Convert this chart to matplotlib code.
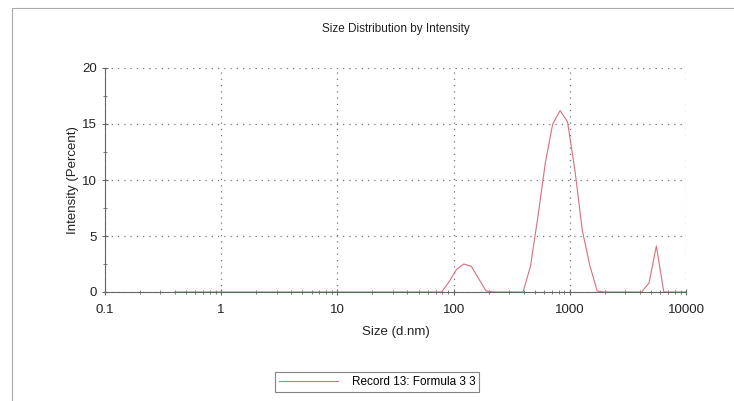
import matplotlib.pyplot as plt
from matplotlib.ticker import LogLocator, FixedLocator, NullFormatter, FuncFormatter
from matplotlib.patches import Rectangle

plt.rcParams['font.family'] = ['Liberation Sans', 'DejaVu Sans']

# size bins (d.nm) and intensity (percent)
size_nm = [0.4, 0.4632, 0.5365, 0.6213, 0.7195, 0.8332, 0.9649, 1.117, 1.294, 1.499,
           1.736, 2.010, 2.328, 2.696, 3.122, 3.615, 4.187, 4.849, 5.615, 6.503,
           7.531, 8.721, 10.10, 11.70, 13.54, 15.69, 18.17, 21.04, 24.36, 28.21,
           32.67, 37.84, 43.82, 50.75, 58.77, 68.06, 78.82, 91.28, 105.7, 122.4,
           141.8, 164.2, 190.1, 220.2, 255.0, 295.3, 342.0, 396.1, 458.7, 531.2,
           615.1, 712.4, 825.0, 955.4, 1106, 1281, 1484, 1718, 1990, 2305,
           2669, 3091, 3580, 4145, 4801, 5560, 6439, 7456, 8635, 10000]
intensity = [0] * 36 + [0.0, 0.9, 2.0, 2.5, 2.3, 1.2, 0.1, 0.0,
                        0.0, 0.0, 0.0, 0.0, 2.3, 6.7, 11.5, 15.0, 16.2, 15.2,
                        10.9, 5.5, 2.4, 0.1, 0.0, 0.0, 0.0, 0.0, 0.0, 0.0,
                        0.8, 4.1, 0.0, 0.0, 0.0, 0.0]
legend_label = "Record 13: Formula 3 3"

fig = plt.figure(figsize=(7.34, 4.01), dpi=100)
ax = fig.add_axes([105 / 734, 1 - 292 / 401, 581 / 734, 224 / 401])

ax.plot(size_nm, intensity, color='#d9707c', lw=0.8, label=legend_label)

ax.set_xscale('log')
ax.set_xlim(0.1, 10000)
ax.set_ylim(0, 20)
ax.xaxis.set_major_locator(LogLocator(base=10, numticks=10))
ax.xaxis.set_major_formatter(FuncFormatter(lambda v, p: f"{v:g}"))
ax.xaxis.set_minor_locator(LogLocator(base=10, subs=range(2, 10), numticks=10))
ax.xaxis.set_minor_formatter(NullFormatter())
ax.yaxis.set_major_locator(FixedLocator([0, 5, 10, 15, 20]))
ax.yaxis.set_minor_locator(FixedLocator([2.5, 7.5, 12.5, 17.5]))

ax.grid(True, which='major', color='#777777', linestyle=(0, (1, 4)), lw=0.9)
for side in ['top', 'right']:
    ax.spines[side].set_visible(False)
for side in ['left', 'bottom']:
    ax.spines[side].set_color('#666666')
    ax.spines[side].set_linewidth(0.8)

ax.tick_params(which='both', direction='inout', colors='#666666', labelcolor='#222222',
               labelsize=9.5)
ax.tick_params(which='major', length=5)
ax.tick_params(which='minor', length=3)
ax.tick_params(axis='x', pad=6)

ax.set_title("Size Distribution by Intensity", fontsize=8.5, color='#222222', pad=26,
             family=['Liberation Sans Narrow', 'Liberation Sans'])
ax.set_xlabel("Size (d.nm)", fontsize=9.5, color='#222222', labelpad=7)
ax.set_ylabel("Intensity (Percent)", fontsize=9.5, color='#222222', labelpad=2)

leg = fig.legend(loc='center', bbox_to_anchor=(377 / 734, 1 - 382 / 401), fontsize=8.5,
                 frameon=True, fancybox=False, handlelength=5, borderpad=0.3,
                 handletextpad=1.2)
leg.get_frame().set_edgecolor('#666666')
leg.get_frame().set_linewidth(0.8)

# scanned page frame
fig.patches.append(Rectangle((12 / 734, -0.1), 1.1, 1 - 8 / 401 + 0.1,
                             transform=fig.transFigure, fill=False,
                             edgecolor='#aaaaaa', lw=0.8))

fig.savefig("out.png", dpi=100)
